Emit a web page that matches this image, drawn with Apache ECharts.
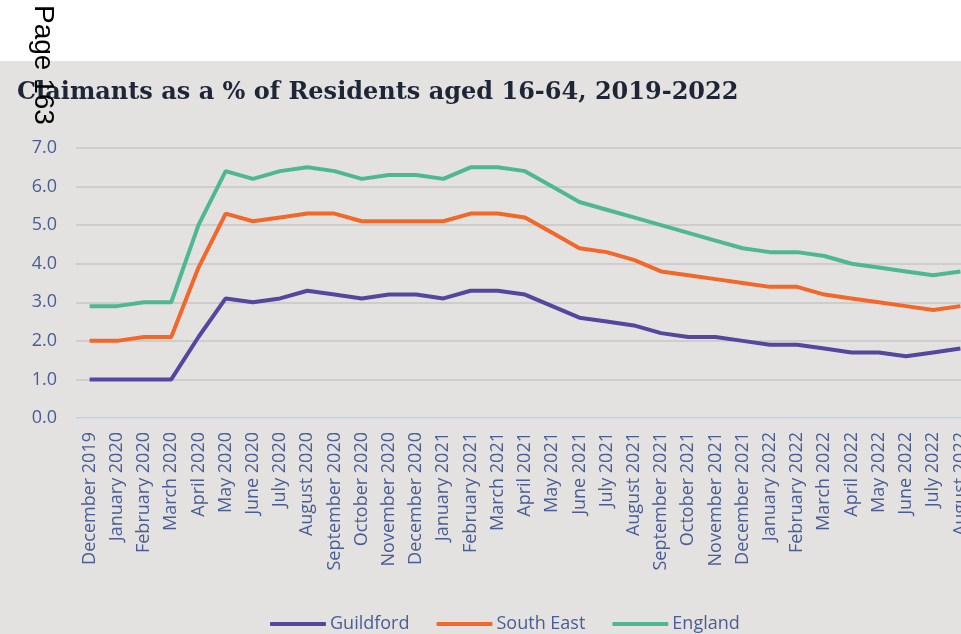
<!DOCTYPE html>
<html>
<head>
<meta charset="utf-8">
<script src="https://cdn.jsdelivr.net/npm/echarts@6/dist/echarts.min.js"></script>
<style>
  html, body { margin: 0; padding: 0; background: #ffffff; overflow: hidden; }
  #band { position: absolute; left: 0; top: 61px; width: 961px; height: 573px; background: #e3e2e0; }
  /* the plot runs past the right edge in the original, so the canvas is wider than the window */
  #chart { position: absolute; left: 0; top: 0; width: 980px; height: 634px; }
</style>
</head>
<body>
<div id="band"></div>
<div id="chart"></div>
<script>
const months = [
  'December 2019', 'January 2020', 'February 2020', 'March 2020', 'April 2020', 'May 2020',
  'June 2020', 'July 2020', 'August 2020', 'September 2020', 'October 2020', 'November 2020',
  'December 2020', 'January 2021', 'February 2021', 'March 2021', 'April 2021', 'May 2021',
  'June 2021', 'July 2021', 'August 2021', 'September 2021', 'October 2021', 'November 2021',
  'December 2021', 'January 2022', 'February 2022', 'March 2022', 'April 2022', 'May 2022',
  'June 2022', 'July 2022', 'August 2022'
]

const guildford = [1.0, 1.0, 1.0, 1.0, 2.1, 3.1, 3.0, 3.1, 3.3, 3.2, 3.1, 3.2, 3.2, 3.1, 3.3, 3.3, 3.2,
  2.9, 2.6, 2.5, 2.4, 2.2, 2.1, 2.1, 2.0, 1.9, 1.9, 1.8, 1.7, 1.7, 1.6, 1.7, 1.8]
const southEast = [2.0, 2.0, 2.1, 2.1, 3.9, 5.3, 5.1, 5.2, 5.3, 5.3, 5.1, 5.1, 5.1, 5.1, 5.3, 5.3, 5.2,
  4.8, 4.4, 4.3, 4.1, 3.8, 3.7, 3.6, 3.5, 3.4, 3.4, 3.2, 3.1, 3.0, 2.9, 2.8, 2.9]
const england = [2.9, 2.9, 3.0, 3.0, 5.0, 6.4, 6.2, 6.4, 6.5, 6.4, 6.2, 6.3, 6.3, 6.2, 6.5, 6.5, 6.4,
  6.0, 5.6, 5.4, 5.2, 5.0, 4.8, 4.6, 4.4, 4.3, 4.3, 4.2, 4.0, 3.9, 3.8, 3.7, 3.8]

const textColor = '#4a5d94'
const chart = echarts.init(document.getElementById('chart'))

const mkLine = (name, data, color) => ({
  name,
  type: 'line',
  data,
  symbol: 'none',
  smooth: false,
  lineStyle: { color, width: 4 },
  itemStyle: { color }
})

chart.setOption({
  animation: false,
  backgroundColor: 'transparent',
  title: {
    text: 'Claimants as a % of Residents aged 16-64, 2019-2022',
    left: 12,
    top: 76,
    textStyle: { fontFamily: 'DejaVu Serif', fontWeight: 'bold', fontSize: 24, color: '#1d2536' }
  },
  graphic: [{
    type: 'text',
    x: 57,
    y: 5,
    rotation: -Math.PI / 2,
    z: 100,
    style: {
      text: 'Page 163',
      fontFamily: 'Liberation Sans',
      fontSize: 28,
      fill: '#000000',
      textAlign: 'left',
      textVerticalAlign: 'top'
    }
  }],
  grid: { left: 76, right: 6, top: 148, bottom: 216 },
  legend: {
    top: 615,
    left: 270,
    padding: 0,
    icon: 'roundRect',
    itemWidth: 56,
    itemHeight: 4,
    itemGap: 27,
    textStyle: { fontFamily: 'Open Sans', fontSize: 18, color: textColor, padding: [0, 0, 0, -1] }
  },
  xAxis: {
    type: 'category',
    data: months,
    boundaryGap: true,
    axisLine: { lineStyle: { color: '#d3daea', width: 1 } },
    axisTick: { show: false },
    axisLabel: { interval: 0, rotate: 90, margin: 14, fontFamily: 'Open Sans', fontSize: 18, color: textColor }
  },
  yAxis: {
    type: 'value',
    min: 0,
    max: 7,
    interval: 1,
    axisLine: { show: false },
    axisTick: { show: false },
    axisLabel: { margin: 19, fontFamily: 'Open Sans', fontSize: 18, color: textColor, formatter: v => v.toFixed(1) },
    splitLine: { lineStyle: { color: '#c7c6c4', width: 1.5 } }
  },
  series: [
    mkLine('Guildford', guildford, '#55479e'),
    mkLine('South East', southEast, '#f2682a'),
    mkLine('England', england, '#4fb893')
  ]
})
</script>
</body>
</html>
